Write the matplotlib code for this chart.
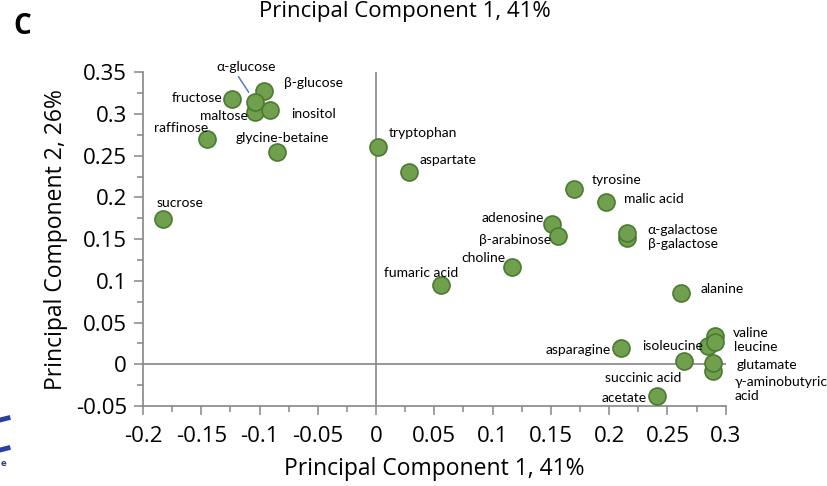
import matplotlib.pyplot as plt
from matplotlib.lines import Line2D

# PCA loadings of the metabolites
names = ["sucrose", "raffinose", "fructose", "maltose", "inositol", "β-glucose",
         "α-glucose", "glycine-betaine", "tryptophan", "aspartate", "tyrosine",
         "malic acid", "adenosine", "β-arabinose", "β-galactose", "α-galactose",
         "choline", "fumaric acid", "alanine", "asparagine", "isoleucine",
         "valine", "leucine", "succinic acid", "γ-aminobutyric acid",
         "glutamate", "acetate"]
pc1 = [-0.183, -0.145, -0.124, -0.104, -0.091, -0.096, -0.104, -0.085, 0.002,
       0.028, 0.170, 0.197, 0.151, 0.156, 0.215, 0.215, 0.117, 0.056, 0.262,
       0.210, 0.285, 0.291, 0.291, 0.264, 0.289, 0.289, 0.241]
pc2 = [0.174, 0.270, 0.318, 0.302, 0.305, 0.328, 0.315, 0.255, 0.261, 0.230,
       0.210, 0.195, 0.168, 0.154, 0.152, 0.157, 0.117, 0.095, 0.086, 0.019,
       0.022, 0.034, 0.027, 0.004, -0.008, 0.002, -0.038]

# label placement: (dx px, dy px, alignment)
label_pos = {
    "sucrose": (17, 16, "center"), "raffinose": (-26, 11, "center"),
    "fructose": (-9, 1, "right"), "maltose": (-7, -4, "right"),
    "inositol": (21, -4, "left"), "β-glucose": (20, 8, "left"),
    "α-glucose": (-9, 35, "center"), "glycine-betaine": (5, 14, "center"),
    "tryptophan": (10, 14, "left"), "aspartate": (11, 12, "left"),
    "tyrosine": (18, 9, "left"), "malic acid": (18, 3, "left"),
    "adenosine": (-8, 6, "right"), "β-arabinose": (-7, -4, "right"),
    "β-galactose": (21, -6, "left"), "α-galactose": (21, 3, "left"),
    "choline": (-7, 9, "right"), "fumaric acid": (17, 12, "right"),
    "alanine": (19, 4, "left"), "asparagine": (-10, -2, "right"),
    "isoleucine": (-5, 0, "right"), "valine": (18, 3, "left"),
    "leucine": (19, -5, "left"), "succinic acid": (-2, -17, "right"),
    "γ-aminobutyric acid": (22, -18, "left"), "glutamate": (24, -2, "left"),
    "acetate": (-10, -2, "right"),
}

axis_font = ["Open Sans", "DejaVu Sans"]
label_font = ["Lato", "DejaVu Sans"]
grey = "#868686"

fig = plt.figure(figsize=(8.28, 4.86), dpi=100)
ax = fig.add_axes([143 / 828, 80 / 486, 582.7 / 828, 333.6 / 486])

ax.axhline(0, color=grey, lw=1.2, zorder=1)
ax.axvline(0, color=grey, lw=1.2, zorder=1)
ax.scatter(pc1, pc2, s=150, color="#70A04E", edgecolor="#4A7A30",
           linewidth=1.2, zorder=3)

for name, x, y in zip(names, pc1, pc2):
    dx, dy, ha = label_pos[name]
    text = name.replace("γ-aminobutyric acid", "γ-aminobutyric\nacid")
    if name == "α-glucose":
        ax.annotate(text, (x, y), xytext=(dx, dy), textcoords="offset pixels",
                    ha=ha, va="center", fontsize=10, family=label_font,
                    arrowprops=dict(arrowstyle="-", color="#4472C4", lw=1,
                                    shrinkA=1, shrinkB=8, relpos=(0.33, 0)),
                    zorder=4)
    else:
        ax.annotate(text, (x, y), xytext=(dx, dy), textcoords="offset pixels",
                    ha=ha, va="center", fontsize=10, family=label_font,
                    linespacing=1.25, zorder=4)

ax.set_xlim(-0.2, 0.3)
ax.set_ylim(-0.05, 0.35)
ax.set_xticks([-0.2, -0.15, -0.1, -0.05, 0, 0.05, 0.1, 0.15, 0.2, 0.25, 0.3])
ax.set_xticklabels(["-0.2", "-0.15", "-0.1", "-0.05", "0", "0.05", "0.1",
                    "0.15", "0.2", "0.25", "0.3"])
ax.set_yticks([-0.05, 0, 0.05, 0.1, 0.15, 0.2, 0.25, 0.3, 0.35])
ax.set_yticklabels(["-0.05", "0", "0.05", "0.1", "0.15", "0.2", "0.25",
                    "0.3", "0.35"])
ax.set_xticks([i * 0.025 - 0.2 for i in range(21)], minor=True)
ax.set_yticks([i * 0.025 - 0.05 for i in range(17)], minor=True)

for s in ["top", "right"]:
    ax.spines[s].set_visible(False)
for s in ["left", "bottom"]:
    ax.spines[s].set_color(grey)
    ax.spines[s].set_linewidth(1.2)
ax.tick_params(which="major", length=6.5, width=1.1, color=grey)
ax.tick_params(which="minor", length=4, width=1.1, color=grey)
ax.tick_params(axis="x", which="major", pad=8)
ax.tick_params(axis="y", which="major", pad=5)
for lab in ax.get_xticklabels() + ax.get_yticklabels():
    lab.set_family(axis_font)
    lab.set_fontsize(16)

ax.set_xlabel("Principal Component 1, 41%", family=axis_font, fontsize=16.5,
              labelpad=7)
ax.set_ylabel("Principal Component 2, 26%", family=axis_font, fontsize=16.5,
              labelpad=6)

fig.text(405 / 828, 1 - 12 / 486, "Principal Component 1, 41%",
         family=axis_font, fontsize=16, ha="center", va="center")
fig.text(22 / 828, 1 - 26 / 486, "C", family=axis_font, fontsize=20,
         fontweight="bold", ha="center", va="center")

# bit of the neighbouring logo at the left edge
logo = "#2B3FA0"
fig.add_artist(Line2D([0, 8 / 828], [1 - 420 / 486, 1 - 418 / 486],
                      color=logo, lw=3.5, transform=fig.transFigure))
fig.add_artist(Line2D([0, 8 / 828], [1 - 450 / 486, 1 - 448 / 486],
                      color=logo, lw=3.5, transform=fig.transFigure))
fig.text(4 / 828, 1 - 463 / 486, "e", color=logo, fontsize=6,
         fontweight="bold", ha="center", va="center")

fig.savefig("out.png", dpi=100)
